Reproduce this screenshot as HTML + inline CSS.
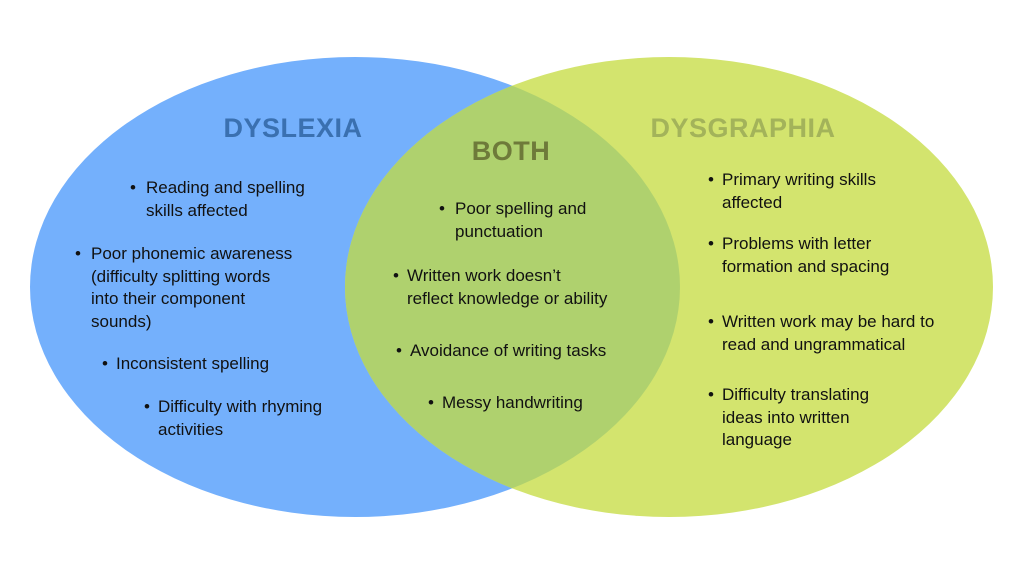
<!DOCTYPE html>
<html><head><style>
body{margin:0;width:1024px;height:576px;background:#fff;overflow:hidden;position:relative;font-family:"Liberation Sans",sans-serif}
svg{position:absolute;left:0;top:0}
.t{position:absolute;font-size:17px;line-height:22.5px;color:#111;white-space:nowrap}
.b{position:absolute;font-size:17px;line-height:22.5px;color:#111}
.h{position:absolute;font-weight:bold;font-size:27px;transform:translateX(-50%);white-space:nowrap;letter-spacing:0.5px}
</style></head><body>
<svg width="1024" height="576">
<defs><clipPath id="c"><ellipse cx="355" cy="287" rx="325" ry="230"/></clipPath></defs>
<ellipse cx="355" cy="287" rx="325" ry="230" fill="#74b0fc"/>
<ellipse cx="669" cy="287" rx="324" ry="230" fill="#d3e46e"/>
<ellipse cx="669" cy="287" rx="324" ry="230" fill="#afd16e" clip-path="url(#c)"/>
</svg>
<div class="h" style="left:293px;top:113px;color:#3a70b0">DYSLEXIA</div>
<div class="h" style="left:511px;top:136px;color:#6e7a3a">BOTH</div>
<div class="h" style="left:743px;top:113px;color:#a3b35a">DYSGRAPHIA</div>

<div class="b" style="left:130px;top:177px">•</div><div class="t" style="left:146px;top:177px">Reading and spelling<br>skills affected</div>
<div class="b" style="left:75px;top:243px">•</div><div class="t" style="left:91px;top:243px">Poor phonemic awareness<br>(difficulty splitting words<br>into their component<br>sounds)</div>
<div class="b" style="left:102px;top:353px">•</div><div class="t" style="left:116px;top:353px">Inconsistent spelling</div>
<div class="b" style="left:144px;top:396px">•</div><div class="t" style="left:158px;top:396px">Difficulty with rhyming<br>activities</div>

<div class="b" style="left:439px;top:198px">•</div><div class="t" style="left:455px;top:198px">Poor spelling and<br>punctuation</div>
<div class="b" style="left:393px;top:265px">•</div><div class="t" style="left:407px;top:265px">Written work doesn’t<br>reflect knowledge or ability</div>
<div class="b" style="left:396px;top:340px">•</div><div class="t" style="left:410px;top:340px">Avoidance of writing tasks</div>
<div class="b" style="left:428px;top:392px">•</div><div class="t" style="left:442px;top:392px">Messy handwriting</div>

<div class="b" style="left:708px;top:169px">•</div><div class="t" style="left:722px;top:169px">Primary writing skills<br>affected</div>
<div class="b" style="left:708px;top:233px">•</div><div class="t" style="left:722px;top:233px">Problems with letter<br>formation and spacing</div>
<div class="b" style="left:708px;top:311px">•</div><div class="t" style="left:722px;top:311px">Written work may be hard to<br>read and ungrammatical</div>
<div class="b" style="left:708px;top:384px">•</div><div class="t" style="left:722px;top:384px">Difficulty translating<br>ideas into written<br>language</div>
</body></html>
